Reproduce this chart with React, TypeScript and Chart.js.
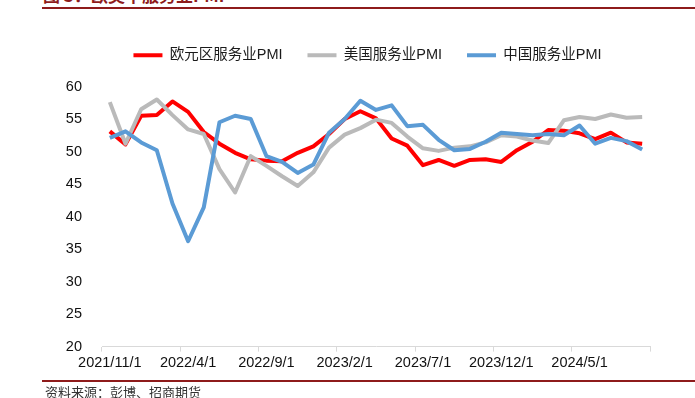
import React, { useEffect, useRef } from 'react';
import { Chart, registerables } from 'chart.js';

Chart.register(...registerables);

const categories = [
  '2021/11/1', '2021/12/1', '2022/1/1', '2022/2/1', '2022/3/1', '2022/4/1', '2022/5/1', '2022/6/1',
  '2022/7/1', '2022/8/1', '2022/9/1', '2022/10/1', '2022/11/1', '2022/12/1', '2023/1/1', '2023/2/1',
  '2023/3/1', '2023/4/1', '2023/5/1', '2023/6/1', '2023/7/1', '2023/8/1', '2023/9/1', '2023/10/1',
  '2023/11/1', '2023/12/1', '2024/1/1', '2024/2/1', '2024/3/1', '2024/4/1', '2024/5/1', '2024/6/1',
  '2024/7/1', '2024/8/1', '2024/9/1',
];

const euroServicesPMI = [
  53.1, 51.1, 55.5, 55.6, 57.7, 56.1, 53.0, 51.2, 49.8, 48.8, 48.6, 48.5, 49.8, 50.8, 52.7, 55.0,
  56.2, 55.1, 52.0, 50.9, 47.9, 48.7, 47.8, 48.7, 48.8, 48.4, 50.2, 51.5, 53.3, 53.2, 52.8, 51.9,
  52.9, 51.4, 51.2,
];

const usServicesPMI = [
  57.6, 51.2, 56.5, 58.0, 55.6, 53.4, 52.7, 47.3, 43.7, 49.3, 47.8, 46.2, 44.7, 46.8, 50.6, 52.6,
  53.6, 54.9, 54.4, 52.3, 50.5, 50.1, 50.6, 50.8, 51.4, 52.5, 52.3, 51.7, 51.3, 54.8, 55.3, 55.0,
  55.7, 55.2, 55.3,
];

const chinaServicesPMI = [
  52.1, 53.1, 51.4, 50.2, 42.0, 36.2, 41.4, 54.5, 55.5, 55.0, 49.3, 48.4, 46.7, 48.0, 52.9, 55.0,
  57.8, 56.4, 57.1, 53.9, 54.1, 51.8, 50.2, 50.4, 51.5, 52.9, 52.7, 52.5, 52.7, 52.5, 54.0, 51.2,
  52.1, 51.6, 50.3,
];

const seriesNames = ['欧元区服务业PMI', '美国服务业PMI', '中国服务业PMI'];
const seriesColors = ['#FF0000', '#BABABA', '#5B9BD5'];
const yMin = 20;
const yMax = 60;
const yStep = 5;
const labelEvery = 5;

const FONT = '"Liberation Sans", Arial, "Noto Sans CJK SC", sans-serif';

const legendSpacer = {
  id: 'legendSpacer',
  beforeUpdate(chart: any) {
    const lg = chart.legend;
    if (lg && !lg.__spaced) {
      const orig = lg.fit;
      lg.fit = function () {
        orig.call(this);
        this.height += 14;
      };
      lg.__spaced = true;
    }
  },
  afterLayout(chart: any) {
    const lg = chart.legend;
    if (lg) {
      lg.left += 15;
      lg.right += 15;
    }
  },
};

export default function App() {
  const ref = useRef<HTMLCanvasElement | null>(null);

  useEffect(() => {
    if (!ref.current) return;
    const mk = (i: number, data: number[], order: number) => ({
      label: seriesNames[i],
      data,
      borderColor: seriesColors[i],
      backgroundColor: seriesColors[i],
      borderWidth: 4,
      pointRadius: 0,
      pointHoverRadius: 0,
      tension: 0,
      fill: false,
      borderJoinStyle: 'round' as const,
      order,
    });
    const chart = new Chart(ref.current, {
      type: 'line',
      data: {
        labels: categories,
        datasets: [mk(0, euroServicesPMI, 2), mk(1, usServicesPMI, 1), mk(2, chinaServicesPMI, 0)],
      },
      plugins: [legendSpacer],
      options: {
        animation: false,
        responsive: false,
        devicePixelRatio: 1,
        layout: { autoPadding: false, padding: { top: 23, left: 55, right: 45, bottom: 23 } },
        plugins: {
          tooltip: { enabled: false },
          legend: {
            position: 'top',
            labels: {
              usePointStyle: true,
              pointStyle: 'line',
              pointStyleWidth: 29,
              padding: 25,
              color: '#1a1a1a',
              font: { size: 14.5, family: FONT },
              sort: (a: any, b: any) => a.datasetIndex - b.datasetIndex,
            },
          },
        },
        scales: {
          x: {
            offset: true,
            grid: {
              offset: true,
              drawOnChartArea: false,
              drawTicks: true,
              tickLength: 5,
              lineWidth: 1,
              color: (ctx: any) =>
                ctx.index === undefined || ctx.index % labelEvery === 0 ? '#d9d9d9' : 'rgba(0,0,0,0)',
            },
            border: { display: true, color: '#d9d9d9', width: 1 },
            ticks: {
              autoSkip: false,
              maxRotation: 0,
              minRotation: 0,
              padding: 3,
              color: '#111',
              font: { size: 14.5, family: FONT },
              callback: function (this: any, val: any, idx: number) {
                return idx % labelEvery === 0 ? this.getLabelForValue(val) : '';
              },
            },
            afterFit: (s: any) => {
              s.paddingLeft = 0;
              s.paddingRight = 0;
            },
          },
          y: {
            min: yMin,
            max: yMax,
            grid: { display: false },
            border: { display: false },
            ticks: {
              stepSize: yStep,
              padding: 12,
              color: '#111',
              font: { size: 14.5, family: FONT },
            },
            afterFit: (s: any) => {
              s.width = 47;
            },
          },
        },
      },
    });
    return () => chart.destroy();
  }, []);

  return (
    <div
      style={{
        position: 'absolute',
        left: 0,
        top: 0,
        width: 695,
        height: 398,
        overflow: 'hidden',
        background: '#fff',
      }}
    >
      <div
        style={{
          position: 'absolute',
          left: 43,
          top: -14,
          fontFamily: '"Noto Sans CJK SC", sans-serif',
          fontWeight: 700,
          fontSize: 17,
          lineHeight: '17px',
          color: '#8E1B1B',
          whiteSpace: 'nowrap',
        }}
      >
        图 3：欧美中服务业PMI
      </div>
      <div style={{ position: 'absolute', left: 42, top: 7, width: 653, height: 2, background: '#8E1B1B' }} />
      <canvas ref={ref} width={695} height={398} style={{ position: 'absolute', left: 0, top: 0 }} />
      <div style={{ position: 'absolute', left: 42, top: 380, width: 653, height: 2, background: '#8E1B1B' }} />
      <div
        style={{
          position: 'absolute',
          left: 45,
          top: 385,
          fontFamily: '"Noto Sans CJK SC", sans-serif',
          fontSize: 13,
          lineHeight: '14px',
          color: '#333',
          whiteSpace: 'nowrap',
        }}
      >
        资料来源：彭博、招商期货
      </div>
    </div>
  );
}
